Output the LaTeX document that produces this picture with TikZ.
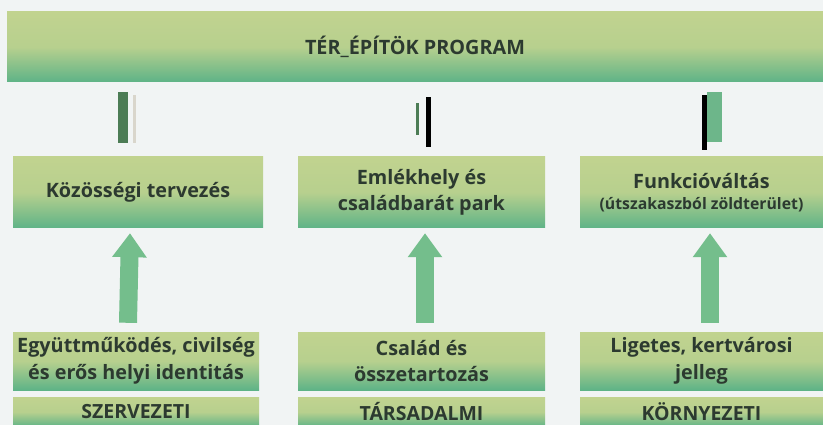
\documentclass[tikz,border=0pt]{standalone}
\usepackage{fontspec}
\setmainfont{Open Sans}
\usetikzlibrary{arrows.meta}
\definecolor{bg}{HTML}{F1F4F4}
\definecolor{boxlight}{HTML}{C1D38F}
\definecolor{boxdark}{HTML}{5EB387}
\definecolor{arrowgreen}{HTML}{74BE8C}
\definecolor{stubdark}{HTML}{4C7C55}
\definecolor{stublight}{HTML}{6DB68A}
\definecolor{stubfaint}{HTML}{D9D6CC}
\definecolor{txt}{HTML}{2C3A30}
\tikzset{
  box/.style={rectangle, inner sep=0pt, align=center, text=txt,
    top color=boxlight, bottom color=boxdark, middle color=boxlight!90!boxdark,
    font=\bfseries\fontsize{19.8}{26.5}\selectfont},
  tag/.style={box, minimum height=30pt, font=\bfseries\fontsize{19.5}{21}\selectfont},
  uparrow/.style={draw=arrowgreen, line width=18pt, -{Triangle[width=33pt,length=24pt]}}
}
\begin{document}
\begin{tikzpicture}[x=1pt, y=-1pt]
      \path[use as bounding box, fill=bg] (0,0) rectangle (823,425);
      \node[box, minimum width=816pt, minimum height=70pt] (T) at (415,47) {TÉR\_ÉPÍTÖK PROGRAM};
      \fill[stubdark] (118,92) rectangle (128,143);
      \fill[stubfaint] (133,95) rectangle (136,143);
      \fill[stubdark] (416,103) rectangle (419,135);
      \fill[black] (426,97) rectangle (431,147);
      \fill[black] (702,95) rectangle (707,150);
      \fill[stublight] (707,92) rectangle (722,142);
      \node[box, minimum width=250pt, minimum height=71pt] (M1) at (138,192.5) {Közösségi tervezés};
      \node[box, minimum width=247pt, minimum height=71pt] (M2) at (421.5,192.5) {Emlékhely és\\családbarát park};
      \node[box, minimum width=243pt, minimum height=71pt] (M3) at (701.5,192.5) {Funkcióváltás\\[-6pt]{\fontsize{15.8}{18}\selectfont(útszakaszból zöldterület)}};
      \node[box, minimum width=246pt, minimum height=58pt] (B1) at (136,361) {Együttműködés, civilség\\és erős helyi identitás};
      \node[box, minimum width=247pt, minimum height=58pt] (B2) at (421.5,361) {Család és\\összetartozás};
      \node[box, minimum width=243pt, minimum height=58pt] (B3) at (701.5,361) {Ligetes, kertvárosi\\jelleg};
      \node[tag, minimum width=246pt] (L1) at (136,412) {SZERVEZETI};
      \node[tag, minimum width=247pt] (L2) at (421.5,412) {TÁRSADALMI};
      \node[tag, minimum width=243pt] (L3) at (701.5,412) {KÖRNYEZETI};
      \draw[uparrow] ([xshift=-8pt, yshift=9pt]B1.north) -- ([xshift=-8pt, yshift=-5pt]M1.south);
      \draw[uparrow] ([xshift=3.5pt, yshift=9pt]B2.north) -- ([xshift=3.5pt, yshift=-5pt]M2.south);
      \draw[uparrow] ([xshift=8.5pt, yshift=9pt]B3.north) -- ([xshift=8.5pt, yshift=-5pt]M3.south);
    \end{tikzpicture}
\end{document}
